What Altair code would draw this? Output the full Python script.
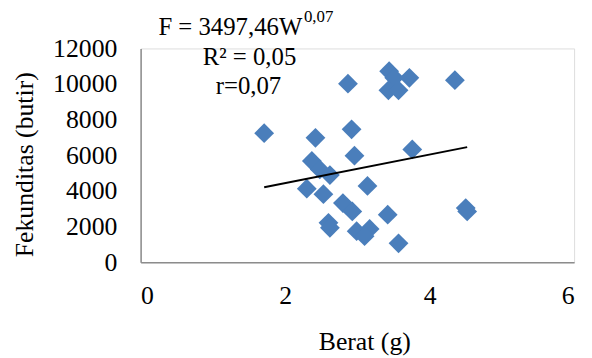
import altair as alt
import pandas as pd

berat = [1.71, 2.42, 2.92, 2.87, 3.44, 3.51, 3.72, 3.43, 3.57, 4.35,
         3.76, 2.96, 2.37, 2.48, 2.62, 2.30, 2.53, 3.14, 2.80, 2.93,
         3.42, 4.50, 4.52, 2.60, 2.62, 2.99, 3.17, 3.10, 3.57]
fekunditas = [7240, 6980, 7460, 10020, 10720, 10350, 10350, 9650, 9650, 10220,
              6330, 5980, 5680, 5210, 4890, 4130, 3820, 4280, 3320, 2850,
              2670, 3040, 2850, 2210, 1930, 1740, 1870, 1460, 1060]

trend_x = [1.71, 4.52]
trend_y = [4210, 6460]

x_ticks = [0, 2, 4, 6]
y_ticks = [0, 2000, 4000, 6000, 8000, 10000, 12000]

pts = pd.DataFrame({"Berat": berat, "Fekunditas": fekunditas})
trend = pd.DataFrame({"Berat": trend_x, "Fekunditas": trend_y})

FONT = "Liberation Serif"
FS = 26
x_scale = alt.Scale(domain=[0, 6], nice=False)
y_scale = alt.Scale(domain=[0, 12000], nice=False)

x_axis = alt.Axis(title="Berat (g)", values=x_ticks, format="d", grid=False, ticks=False,
                  domainColor="#8c8c8c", domainWidth=1.5, labelOverlap=False,
                  labelFont=FONT, labelFontSize=FS, labelColor="black",
                  labelPadding=21, titleFont=FONT, titleFontSize=FS,
                  titleFontWeight="normal", titleColor="black",
                  titleX=226, titleY=88, titleBaseline="alphabetic")
y_axis = alt.Axis(title="Fekunditas (butir)", values=y_ticks, format="d", grid=False, ticks=False,
                  domainColor="#8c8c8c", domainWidth=1.5, labelOverlap=False,
                  labelFont=FONT, labelFontSize=FS, labelColor="black",
                  labelPadding=24, titleFont=FONT, titleFontSize=FS,
                  titleFontWeight="normal", titleColor="black",
                  titleAngle=270, titleX=-117, titleY=117,
                  titleBaseline="middle", titleAlign="center")

points = alt.Chart(pts).mark_point(shape="diamond", filled=True, size=400,
                                   color="#4a7ebb", opacity=1).encode(
    x=alt.X("Berat:Q", scale=x_scale, axis=x_axis),
    y=alt.Y("Fekunditas:Q", scale=y_scale, axis=y_axis))

line = alt.Chart(trend).mark_line(color="black", strokeWidth=2).encode(
    x=alt.X("Berat:Q", scale=x_scale, axis=x_axis),
    y=alt.Y("Fekunditas:Q", scale=y_scale, axis=y_axis))

eq_main = pd.DataFrame({"t": ["F = 3497,46W"]})
eq_sup = pd.DataFrame({"t": ["0,07"]})
r2 = pd.DataFrame({"t": ["R² = 0,05"]})
rr = pd.DataFrame({"t": ["r=0,07"]})

t1 = alt.Chart(eq_main).mark_text(font=FONT, fontSize=25, align="left", baseline="alphabetic",
                                  color="black").encode(text="t:N", x=alt.value(18), y=alt.value(-14))
t2 = alt.Chart(eq_sup).mark_text(font=FONT, fontSize=17, align="left", baseline="alphabetic",
                                 color="black").encode(text="t:N", x=alt.value(165), y=alt.value(-27))
t3 = alt.Chart(r2).mark_text(font=FONT, fontSize=25, align="center", baseline="alphabetic",
                             color="black").encode(text="t:N", x=alt.value(110), y=alt.value(17))
t4 = alt.Chart(rr).mark_text(font=FONT, fontSize=25, align="center", baseline="alphabetic",
                             color="black").encode(text="t:N", x=alt.value(109), y=alt.value(46))

chart = alt.layer(points, line, t1, t2, t3, t4).properties(
    width=438, height=216,
    autosize=alt.AutoSizeParams(type="none"),
    padding={"left": 134, "top": 39, "right": 10, "bottom": 100},
).configure_view(strokeWidth=0).configure(background="white")

chart.save("out.html", embed_options={"renderer": "svg", "actions": False})
